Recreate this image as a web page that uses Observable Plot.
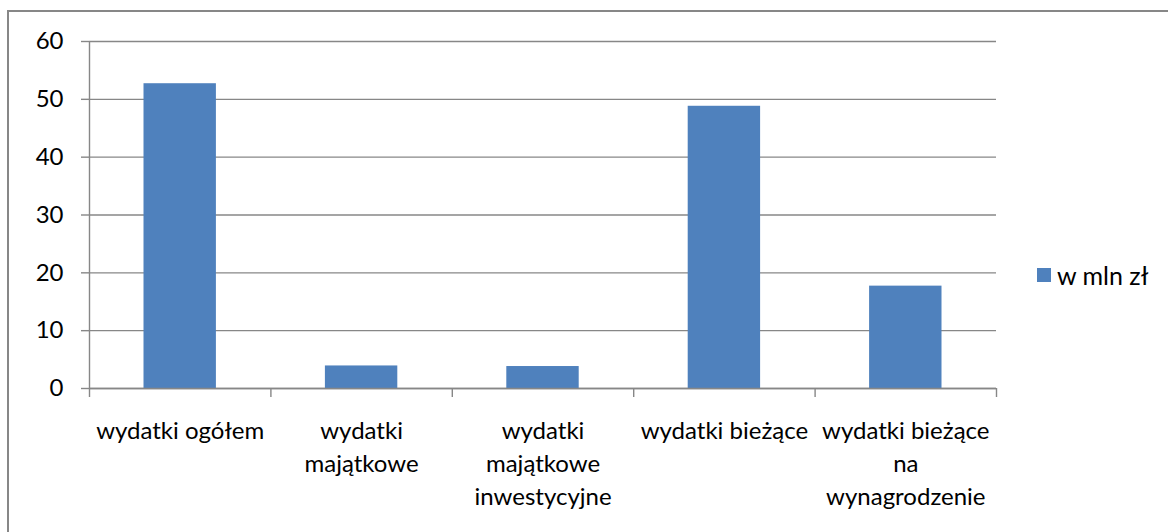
<!DOCTYPE html>
<html>
<head>
<meta charset="utf-8">
<script src="https://cdn.jsdelivr.net/npm/d3@7"></script>
<script src="https://cdn.jsdelivr.net/npm/@observablehq/plot@0.6"></script>
<style>
  html, body { margin: 0; padding: 0; background: #fff; overflow: hidden; width: 1168px; height: 532px; }
  #wrap { position: relative; width: 1168px; height: 532px; font-family: Lato, "Open Sans", sans-serif; }
  #frame { position: absolute; left: 7px; top: 10px; width: 1300px; height: 700px; border: 2px solid #878787; box-sizing: border-box; }
  #chart { position: absolute; left: 0; top: 0; }
  #legend { position: absolute; left: 1037px; top: 260px; display: flex; align-items: center; font-size: 25px; color: #000; }
  #legend .sw { width: 14px; height: 14px; background: #4f81bd; margin-right: 6px; }
</style>
</head>
<body>
<div id="wrap">
  <div id="frame"></div>
  <div id="chart"></div>
  <div id="legend"><div class="sw"></div><span id="legend-label"></span></div>
</div>
<script>
const categories = [
  "wydatki ogółem",
  "wydatki\nmajątkowe",
  "wydatki\nmajątkowe\ninwestycyjne",
  "wydatki bieżące",
  "wydatki bieżące\nna\nwynagrodzenie"
];
const values = [52.7, 3.9, 3.8, 48.8, 17.7];
const seriesName = "w mln zł";
const yTicks = [0, 10, 20, 30, 40, 50, 60];

const data = categories.map((c, i) => ({ i, category: c, value: values[i] }));
const boundaries = d3.range(categories.length + 1);
const centers = categories.map((c, i) => i + 0.5);

const grid = "#878787";
const fontSize = 24;

const chart = Plot.plot({
  width: 1168,
  height: 532,
  marginLeft: 89,
  marginRight: 172,
  marginTop: 41,
  marginBottom: 144,
  style: { fontFamily: "Lato, 'Open Sans', sans-serif", fontSize: fontSize + "px", color: "#000", background: "transparent", overflow: "visible" },
  x: { type: "linear", domain: [0, categories.length] },
  y: { domain: [0, 60] },
  marks: [
    Plot.gridY(yTicks, { stroke: grid, strokeOpacity: 1, strokeWidth: 1.4 }),
    Plot.rectY(data, { x1: d => d.i, x2: d => d.i + 1, y: "value", fill: "#4f81bd", insetLeft: 54.5, insetRight: 54.5 }),
    Plot.ruleX([0], { y1: 0, y2: 60, stroke: grid, strokeWidth: 1.4 }),
    Plot.ruleY([0], { stroke: grid, strokeWidth: 1.4 }),
    Plot.axisY({ ticks: yTicks, tickSize: 8, tickPadding: 18, stroke: grid, strokeWidth: 1.4, label: null, fill: "#000" }),
    Plot.axisX({ ticks: boundaries, tickSize: 9, tickFormat: () => "", stroke: grid, strokeWidth: 1.4, label: null }),
    Plot.axisX({ ticks: centers, tickSize: 0, tickPadding: 27, tickFormat: t => categories[Math.floor(t)], lineHeight: 1.38, label: null, fill: "#000", textOverflow: null })
  ]
});
document.getElementById("chart").appendChild(chart);
document.getElementById("legend-label").textContent = seriesName;
</script>
</body>
</html>
